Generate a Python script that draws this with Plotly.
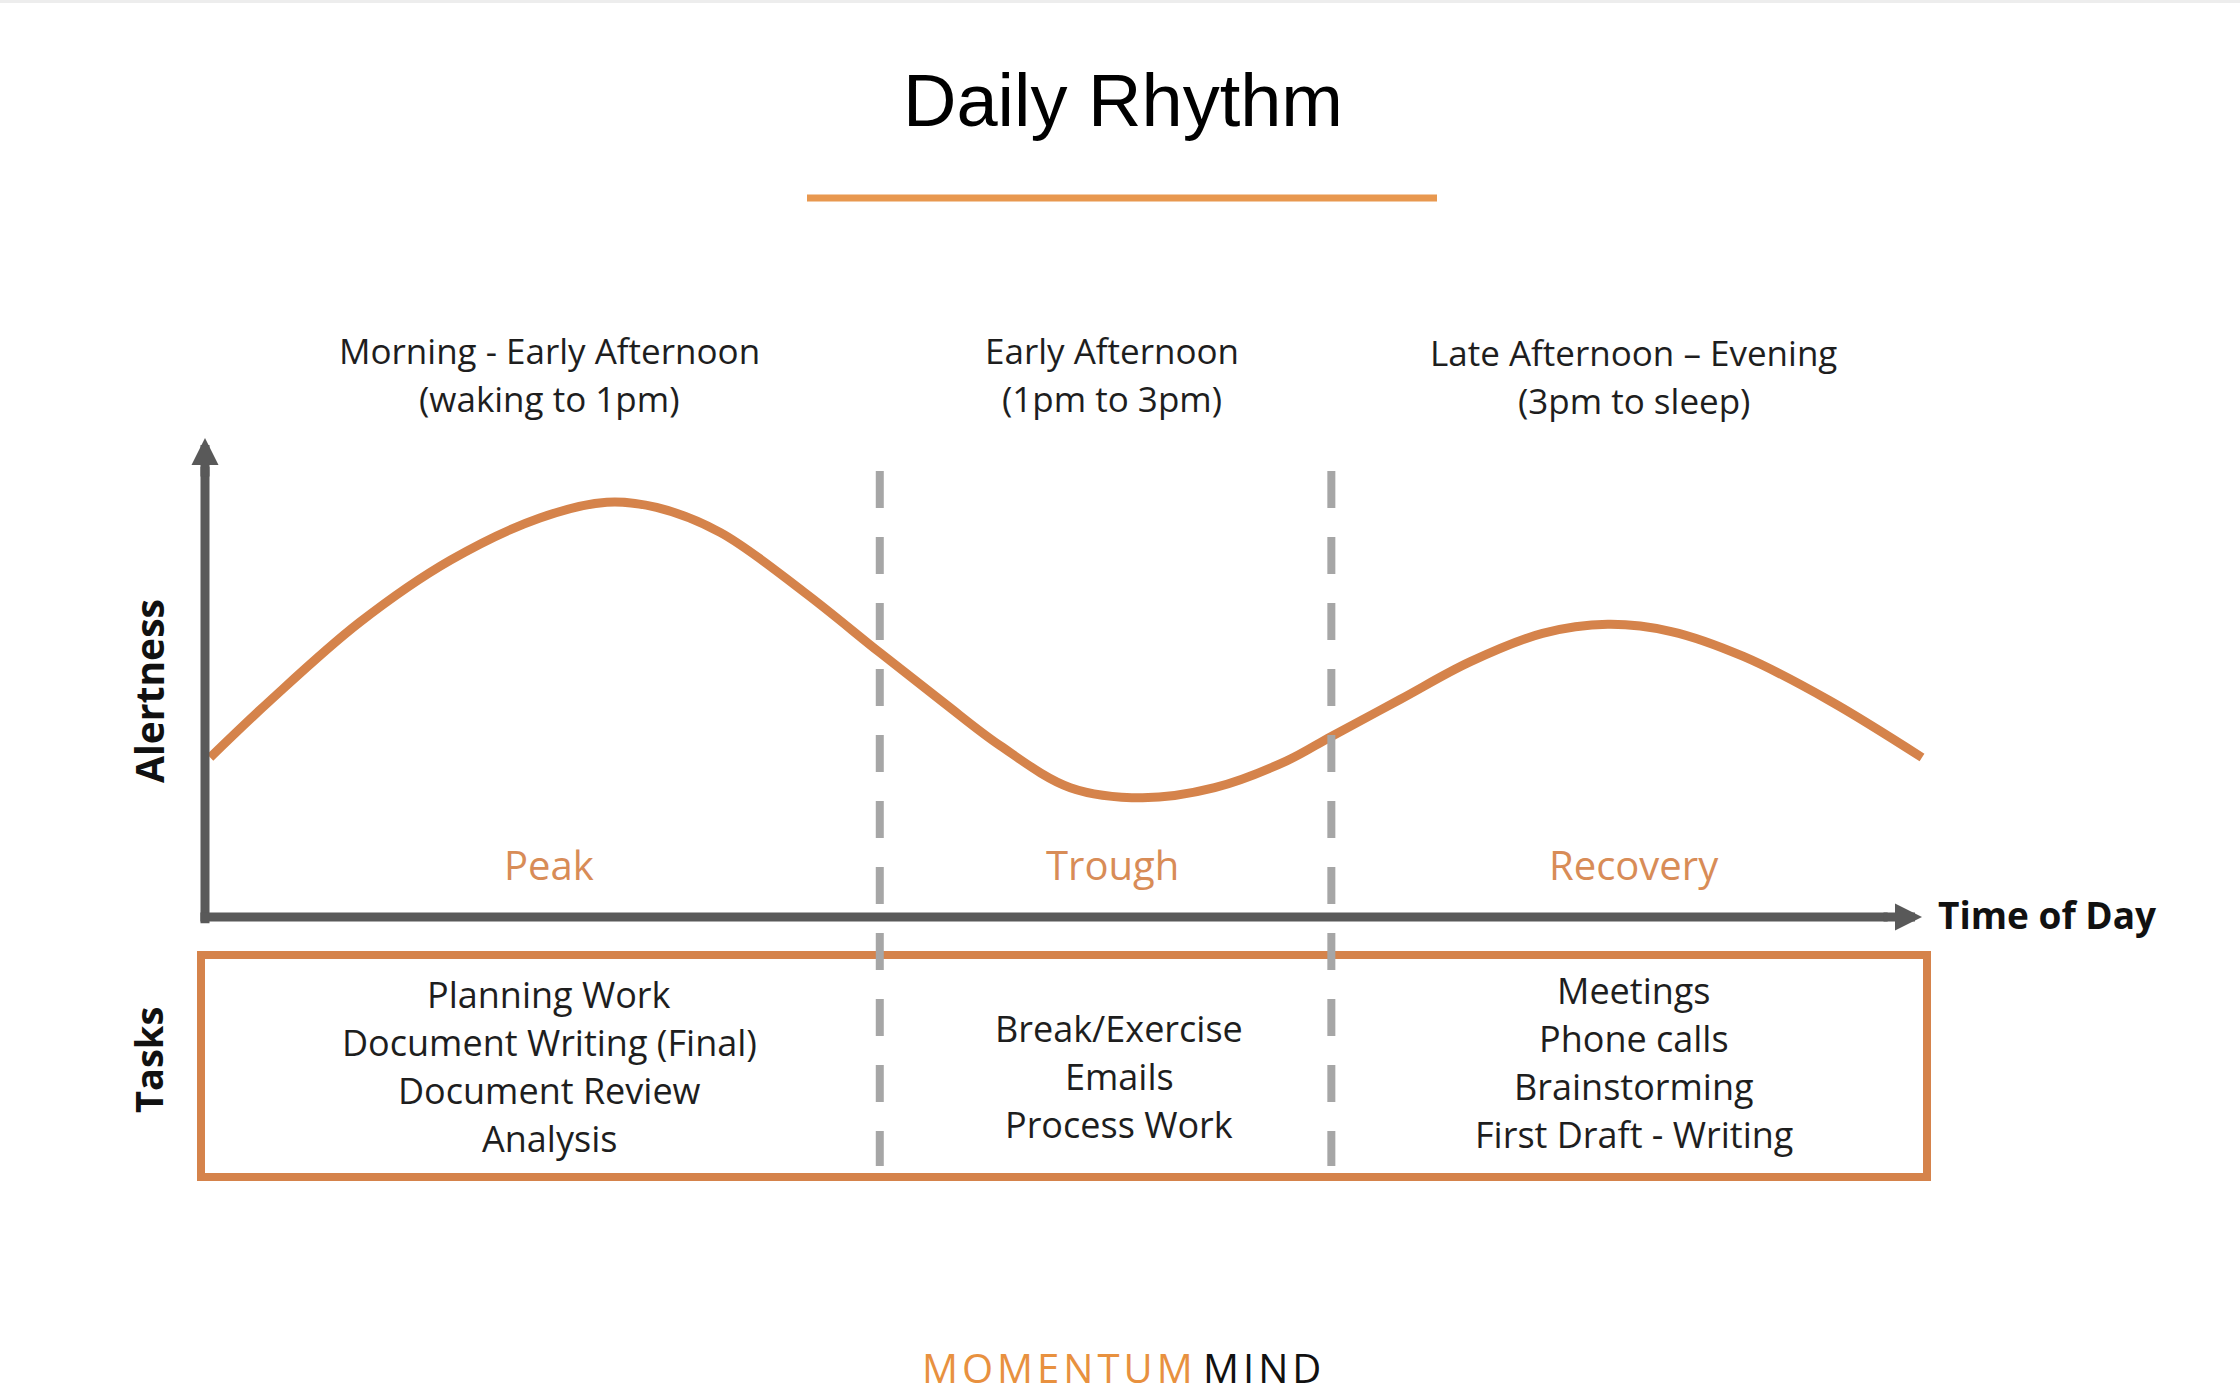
import plotly.graph_objects as go

W, H = 2240, 1397

# ---------------- data ----------------
time_idx = [0.3, 3.8, 9.0, 14.3, 19.5, 23.4, 26.3, 30.0, 34.9, 39.3, 43.0, 46.3, 50.4,
            54.6, 58.8, 63.0, 65.6, 69.6, 73.7, 77.9, 81.7, 85.4, 89.6, 94.6, 100.0]
alertness = [33.3, 45.2, 61.5, 74.5, 83.3, 86.6, 85.5, 80.3, 67.8, 55.2, 44.8, 35.8, 27.0,
             24.9, 27.0, 32.6, 37.7, 45.4, 53.3, 59.2, 61.1, 59.6, 54.4, 45.2, 33.3]
phase_bounds = [39.3, 65.6]
phase_names = ["Peak", "Trough", "Recovery"]
phase_titles = [
    ["Morning - Early Afternoon", "(waking to 1pm)"],
    ["Early Afternoon", "(1pm to 3pm)"],
    ["Late Afternoon \u2013 Evening", "(3pm to sleep)"],
]
phase_tasks = [
    ["Planning Work", "Document Writing (Final)", "Document Review", "Analysis"],
    ["Break/Exercise", "Emails", "Process Work"],
    ["Meetings", "Phone calls", "Brainstorming", "First Draft - Writing"],
]
brand_words = ["MOMENTUM", "MIND"]

# ---------------- styling / layout helpers ----------------
ORANGE = "#D5834B"
ORANGE_TXT = "#D88C57"
GRAY_AX = "#595959"
GRAY_DASH = "#A6A6A6"
TXT = "#1E1E1E"
FONT = "Open Sans"

X0_PX, X_SC = 205.0, 17.17   # pixel of x=0, px per unit
Y0_PX, Y_SC = 917.0, 4.79    # pixel of alertness=0, px per unit


def py(p):
    return 1 - p / H


def px(p):
    return p / W


def tracked(s):
    return "\u200a".join(s)


fig = go.Figure()

fig.add_trace(go.Scatter(
    x=time_idx, y=alertness, mode="lines",
    line=dict(color=ORANGE, width=9, shape="spline", smoothing=1.0),
    hoverinfo="skip", showlegend=False,
))

edges = [0.0] + phase_bounds + [100.0]
mids = [(edges[i] + edges[i + 1]) / 2 + 0.4 for i in range(3)]
task_dx = [0.0, 0.4, 0.0]

shapes = []
# faint top border strip
shapes.append(dict(type="rect", xref="paper", yref="paper", x0=0, x1=1, y0=py(3), y1=1,
                   line=dict(width=0), fillcolor="#EDEDED", layer="below"))
# title underline
shapes.append(dict(type="line", xref="paper", yref="paper", x0=px(807), x1=px(1437),
                   y0=py(198), y1=py(198), line=dict(color="#E8984F", width=7)))
# tasks box
shapes.append(dict(type="rect", xref="paper", yref="paper", x0=px(201), x1=px(1927),
                   y0=py(1177), y1=py(955), line=dict(color=ORANGE, width=8)))
# axes shafts
shapes.append(dict(type="line", xref="x", yref="y", x0=0, x1=0, y0=-1.3, y1=94,
                   line=dict(color=GRAY_AX, width=9)))
shapes.append(dict(type="line", xref="x", yref="y", x0=-0.27, x1=98, y0=0, y1=0,
                   line=dict(color=GRAY_AX, width=9)))
# phase boundaries
for b in phase_bounds:
    shapes.append(dict(type="line", xref="x", yref="paper", x0=b, x1=b,
                       y0=py(471), y1=py(1166),
                       line=dict(color=GRAY_DASH, width=8, dash="37px,29px")))

ann = []
# axis arrowheads
ann.append(dict(x=0, y=100, xref="x", yref="y", ax=0, ay=40, axref="pixel", ayref="pixel",
                showarrow=True, arrowhead=2, arrowsize=0.6, arrowwidth=9,
                arrowcolor=GRAY_AX, text=""))
ann.append(dict(x=100, y=0, xref="x", yref="y", ax=-40, ay=0, axref="pixel", ayref="pixel",
                showarrow=True, arrowhead=2, arrowsize=0.6, arrowwidth=9,
                arrowcolor=GRAY_AX, text=""))

# title
ann.append(dict(x=px(1123), y=py(100), xref="paper", yref="paper", text="Daily Rhythm",
                showarrow=False, font=dict(family="Liberation Sans", size=74, color="#000"),
                xanchor="center", yanchor="middle"))

# axis labels
ann.append(dict(x=px(1936), y=py(914), xref="paper", yref="paper", text="<b>Time of Day</b>",
                showarrow=False, font=dict(family=FONT, size=37, color="#111"),
                xanchor="left", yanchor="middle"))
ann.append(dict(x=px(148), y=py(691), xref="paper", yref="paper", text="<b>Alertness</b>",
                showarrow=False, textangle=-90, font=dict(family=FONT, size=39, color="#111"),
                xanchor="center", yanchor="middle"))
ann.append(dict(x=px(148), y=py(1060), xref="paper", yref="paper", text="<b>Tasks</b>",
                showarrow=False, textangle=-90, font=dict(family=FONT, size=38, color="#111"),
                xanchor="center", yanchor="middle"))

header_y = [350, 398]
task_centers = [1066, 1076, 1062]
for i in range(3):
    for j, line in enumerate(phase_titles[i]):
        ann.append(dict(x=mids[i], y=py(header_y[j] + (2 if i == 2 else 0)), xref="x", yref="paper",
                        text=line, showarrow=False,
                        font=dict(family=FONT, size=35, color=TXT),
                        xanchor="center", yanchor="middle"))
    ann.append(dict(x=mids[i], y=py(864), xref="x", yref="paper", text=phase_names[i],
                    showarrow=False, font=dict(family=FONT, size=40, color=ORANGE_TXT),
                    xanchor="center", yanchor="middle"))
    n = len(phase_tasks[i])
    for j, t in enumerate(phase_tasks[i]):
        yy = task_centers[i] + (j - (n - 1) / 2) * 48
        ann.append(dict(x=mids[i] + task_dx[i], y=py(yy), xref="x", yref="paper", text=t,
                        showarrow=False, font=dict(family=FONT, size=36, color=TXT),
                        xanchor="center", yanchor="middle"))

# brand
brand_text = ("<span style='color:#E8913F'>" + tracked(brand_words[0]) + "</span> "
              + tracked(brand_words[1]))
ann.append(dict(x=px(1121), y=0, xref="paper", yref="paper", text=brand_text,
                showarrow=False, font=dict(family=FONT, size=40, color="#111"),
                xanchor="center", yanchor="bottom"))

fig.update_layout(
    width=W, height=H, margin=dict(l=0, r=0, t=0, b=0),
    paper_bgcolor="white", plot_bgcolor="white",
    xaxis=dict(range=[-X0_PX / X_SC, (W - X0_PX) / X_SC], visible=False, fixedrange=True),
    yaxis=dict(range=[-(H - Y0_PX) / Y_SC, Y0_PX / Y_SC], visible=False, fixedrange=True),
    shapes=shapes, annotations=ann, showlegend=False,
)

fig.write_html("out.html", config={"displayModeBar": False})
